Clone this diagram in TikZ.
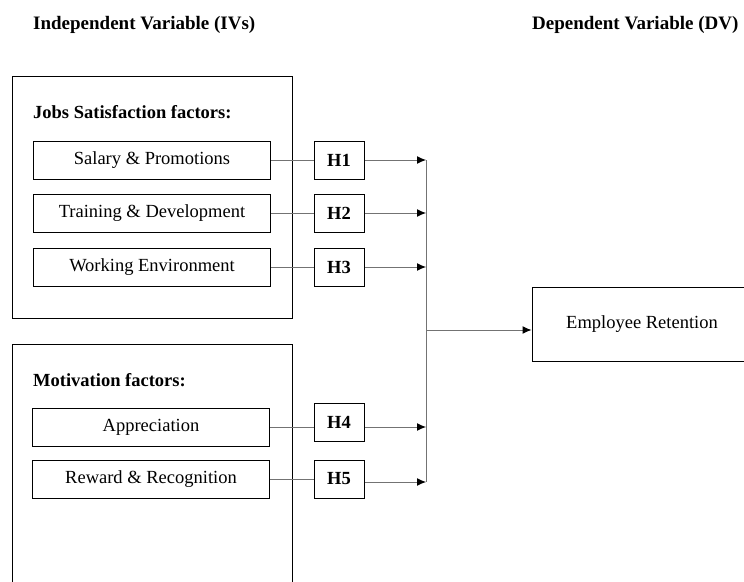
\documentclass[tikz,border=0pt]{standalone}
\usepackage{fontspec}
\setmainfont{Liberation Serif}
\usetikzlibrary{arrows.meta}
\begin{document}
\begin{tikzpicture}[x=1pt,y=-1pt,
  frame/.style={draw=black,line width=1pt,minimum width=280pt,inner sep=0pt},
  itembox/.style={draw=black,line width=1pt,minimum width=237pt,minimum height=38pt,inner sep=0pt,font=\fontsize{18.5}{20}\selectfont},
  hbox/.style={draw=black,line width=1pt,minimum width=50pt,minimum height=38pt,inner sep=0pt,font=\fontsize{18.5}{20}\selectfont\bfseries},
  heading/.style={anchor=west,inner sep=0pt,font=\fontsize{18.5}{20}\selectfont\bfseries},
  title/.style={anchor=west,inner sep=0pt,font=\fontsize{19}{21}\selectfont\bfseries},
  link/.style={draw=black!55,line width=1pt},
  arr/.style={link,-{Latex[length=9pt,width=8pt,black]}}]
\useasboundingbox (0,0) rectangle (744,581);
\clip (0,0) rectangle (744,581);
\fill[white] (0,0) rectangle (744,581);
% titles
\node[title] (tiv) at (33,25) {Independent Variable (IVs)};
\node[title] (tdv) at (532,25) {Dependent Variable (DV)};
% outer frames
\node[frame,minimum height=242pt] (f1) at (152,197) {};
\node[frame,minimum height=260pt] (f2) at (152,474) {};
\node[heading] (l1) at (33,112) {Jobs Satisfaction factors:};
\node[heading] (l2) at (33,380) {Motivation factors:};
% items
\node[itembox] (s1) at (152,160) {Salary \& Promotions};
\node[itembox] (s2) at (152,213) {Training \& Development};
\node[itembox] (s3) at (152,267) {Working Environment};
\node[itembox] (s4) at (151,427) {Appreciation};
\node[itembox] (s5) at (151,479) {Reward \& Recognition};
% hypotheses
\node[hbox] (h1) at (339,160) {H1};
\node[hbox] (h2) at (339,213) {H2};
\node[hbox] (h3) at (339,267) {H3};
\node[hbox] (h4) at (339,422) {H4};
\node[hbox] (h5) at (339,479) {H5};
% dependent variable
\node[draw=black,line width=1pt,minimum width=220pt,minimum height=74pt,inner sep=0pt,font=\fontsize{18.5}{20}\selectfont] (er) at (642,324) {Employee Retention};
% junction coordinates
\coordinate (j1) at (426,160);
\coordinate (j2) at (426,213);
\coordinate (j3) at (426,267);
\coordinate (j4) at (426,427);
\coordinate (j5) at (426,482);
\coordinate (jm) at (426,330);
% connectors
\foreach \i in {1,2,3,4,5} {\draw[link] (s\i.east) -- (s\i.east -| h\i.west);}
\draw[arr] (h1.east) -- (j1);
\draw[arr] (h2.east) -- (j2);
\draw[arr] (h3.east) -- (j3);
\draw[arr] (j4 -| h4.east) -- (j4);
\draw[arr] (j5 -| h5.east) -- (j5);
\draw[link] (j1) -- (j5);
\draw[arr] (jm) -- (jm -| er.west);
\end{tikzpicture}
\end{document}
